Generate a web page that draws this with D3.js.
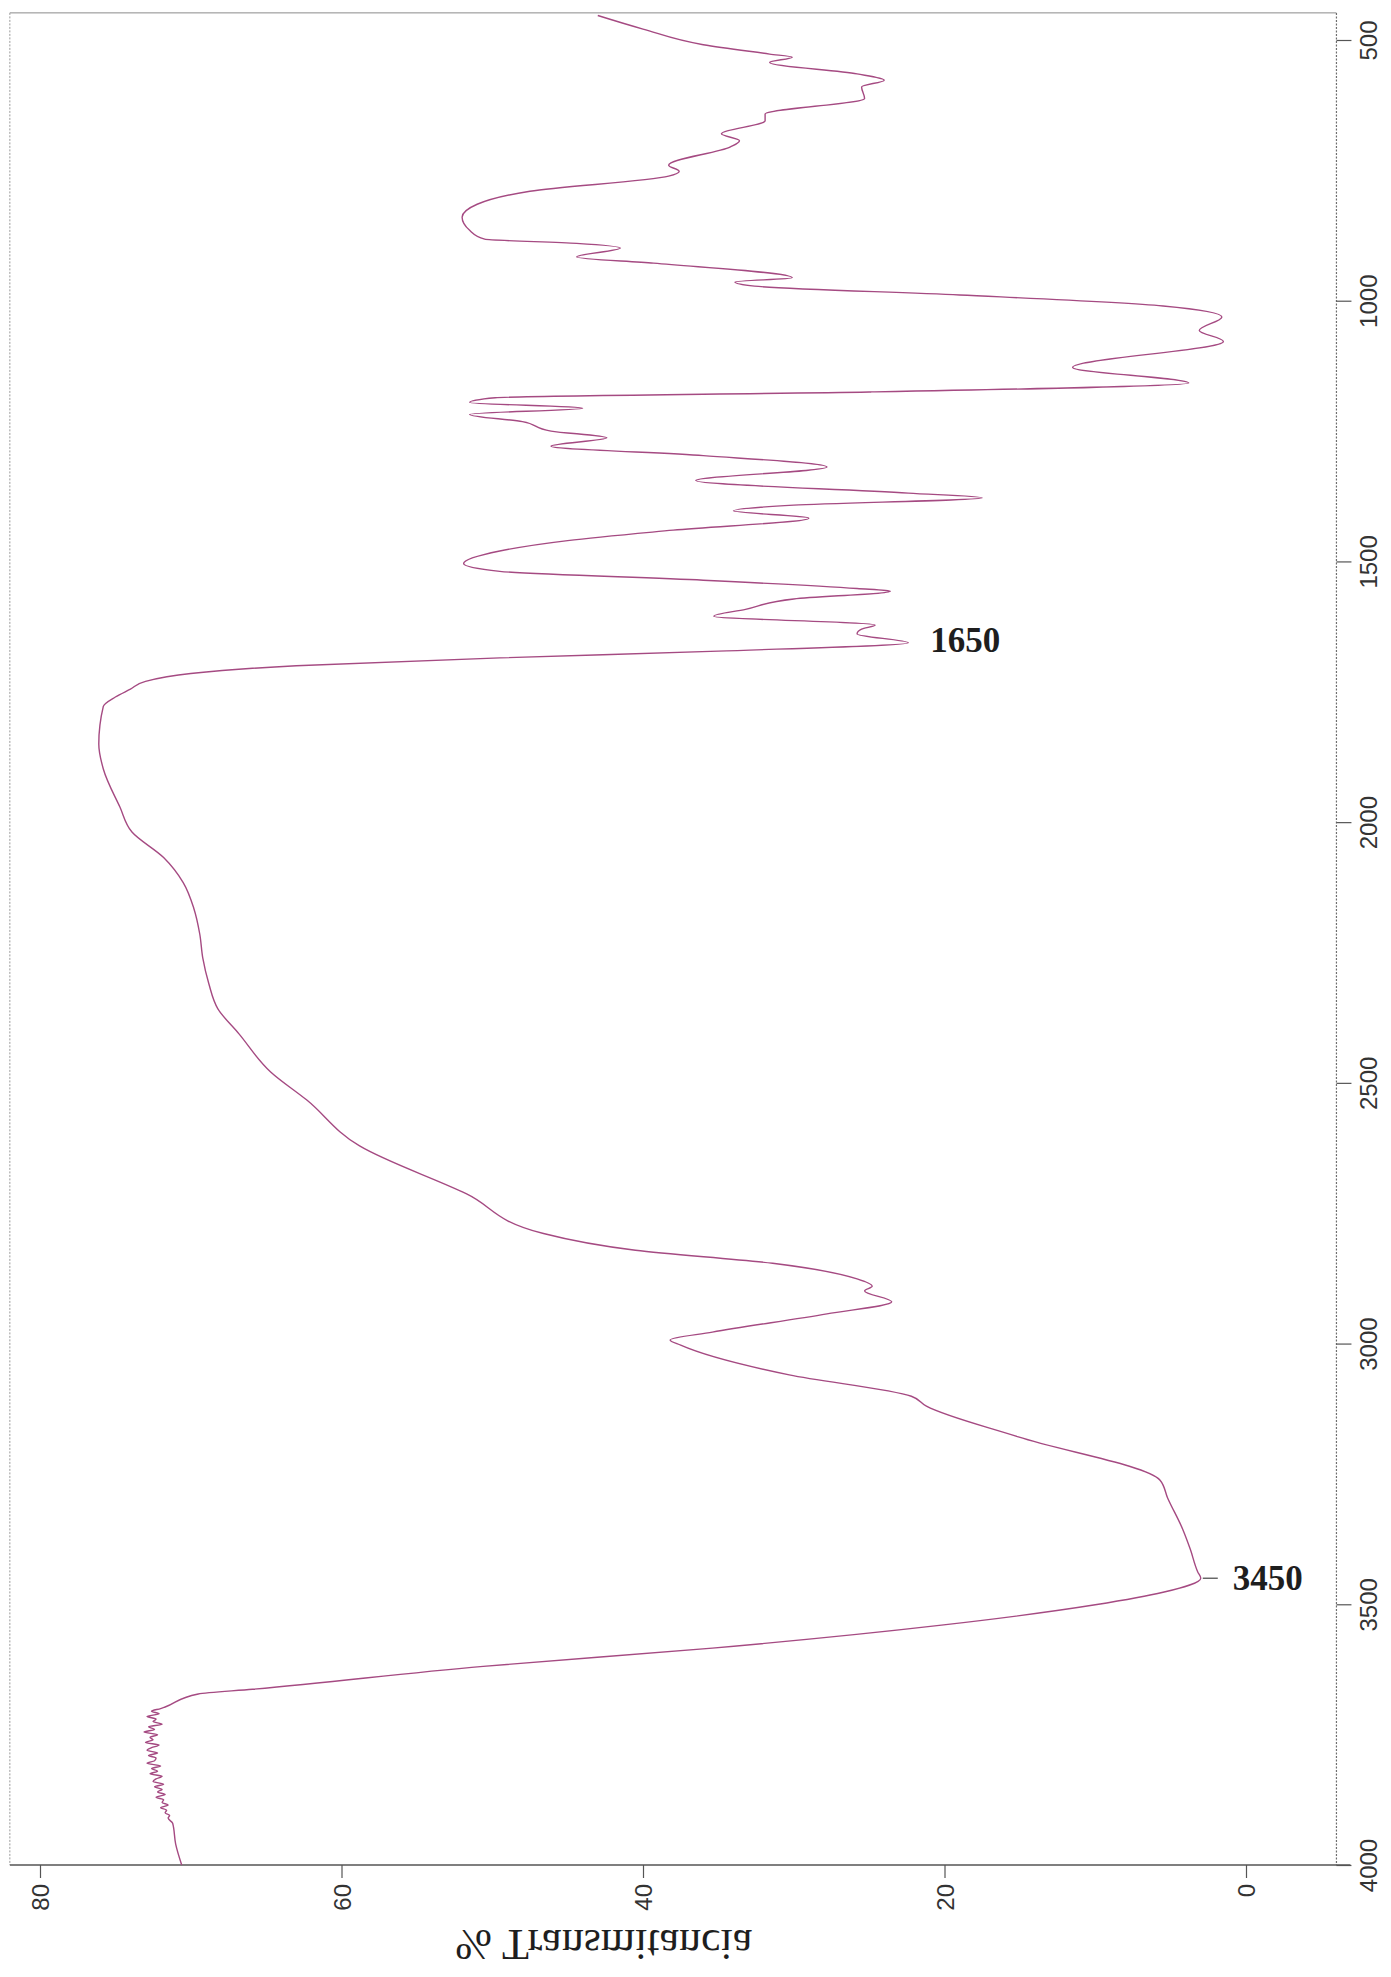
<!DOCTYPE html>
<html>
<head>
<meta charset="utf-8">
<script src="https://cdn.jsdelivr.net/npm/d3@7"></script>
<style>
  html, body { margin: 0; padding: 0; background: #fff; }
  svg { display: block; }
</style>
</head>
<body>
<div id="chart"></div>
<script>
// IR spectrum, drawn rotated: wavenumber runs down the right side, %T along the bottom
const wavenumbers = [
  453, 479, 509, 527, 533, 543, 565, 577, 590, 612, 642, 655, 680, 693, 705, 740, 752, 761,
  790, 815, 840, 865, 882, 890, 899, 916, 928, 956, 964, 972, 989, 1010, 1031, 1057, 1078, 1128,
  1158, 1175, 1186, 1195, 1206, 1218, 1232, 1250, 1263, 1279, 1297, 1319, 1345, 1369, 1378,
  1392, 1403, 1417, 1440, 1460, 1480, 1504, 1519, 1536, 1552, 1557, 1572, 1592, 1605, 1622,
  1630, 1639, 1656, 1672, 1685, 1700, 1715, 1730, 1745, 1760, 1778, 1850, 1898, 1971, 2019,
  2068, 2116, 2165, 2215, 2261, 2310, 2358, 2406, 2479, 2533, 2621, 2713, 2789, 2821, 2846, 2876,
  2890, 2899, 2920, 2943, 2978, 2993, 3003, 3060, 3101, 3120, 3179, 3262, 3296, 3356, 3394,
  3438, 3450, 3477, 3501, 3540, 3584, 3619, 3663, 3672, 3697,
  3700, 3705, 3710, 3715, 3720, 3725, 3730, 3735, 3740, 3745, 3750, 3755, 3760, 3765, 3770,
  3775, 3780, 3785, 3790, 3795, 3800, 3805, 3810, 3815, 3820, 3825, 3830, 3835, 3840, 3845,
  3850, 3855, 3860, 3865, 3870, 3875, 3880, 3885, 3890, 3895, 3900, 3905, 3910,
  3920, 3960, 4000
];
const transmittance = [
  43.0, 40.0, 36.0, 31.6, 30.1, 31.6, 25.8, 24.0, 25.5, 25.3, 31.9, 31.9, 34.8, 33.6, 34.2, 38.3, 37.6, 38.3,
  47.5, 51.0, 52.0, 51.5, 50.5, 44.4, 41.5, 44.4, 39.3, 30.1, 33.9, 32.6, 19.0, 5.5, 1.6, 3.1, 1.5, 11.5,
  3.8, 25.0, 49.8, 51.5, 44.0, 51.5, 48.0, 46.1, 42.4, 46.1, 36.0, 27.8, 36.5, 22.4, 17.5,
  30.0, 34.0, 29.0, 38.0, 45.0, 49.5, 51.9, 49.5, 36.0, 25.8, 23.6, 30.0, 33.2, 35.3, 24.6,
  25.5, 25.8, 22.4, 35.0, 49.5, 63.0, 70.0, 73.0, 74.0, 75.0, 75.8, 76.1, 75.8, 74.7, 73.9,
  71.8, 70.5, 69.8, 69.4, 69.2, 68.8, 68.2, 66.8, 64.7, 62.3, 58.8, 51.7, 46.6, 40.5, 31.4, 25.8,
  24.8, 25.3, 23.5, 27.8, 35.4, 38.2, 37.5, 30.3, 22.2, 21.2, 15.1, 5.7, 5.2, 4.2, 3.7,
  3.2, 3.0, 5.5, 10.0, 20.2, 35.4, 50.6, 65.9, 69.5, 71.7,
  72.0, 72.6, 72.1, 72.9, 72.3, 72.5, 71.9, 72.8, 72.4, 73.1, 72.2, 72.7, 72.5, 73.0, 72.1,
  72.6, 72.9, 72.2, 72.8, 72.3, 72.4, 72.9, 72.0, 72.6, 72.2, 72.7, 71.9, 72.3, 72.5, 71.8,
  72.4, 71.9, 72.2, 71.7, 72.3, 71.8, 71.9, 71.5, 72.0, 71.6, 71.7, 71.4, 71.5,
  71.2, 71.0, 70.6
];
const wnTicks = [500, 1000, 1500, 2000, 2500, 3000, 3500, 4000];
const tTicks = [0, 20, 40, 60, 80];
const peakWn = [1650, 3450];
const peakT = [22.4, 3.0];
const peakLabels = ['1650', '3450'];
const axisTitle = '% Transmitancia';

const width = 1391, height = 1977;
const wnMin = 448, wnMax = 4000;     // visible wavenumber range (top .. bottom)
const tLeft = 82, tRight = -6;       // visible %T range (left .. right)

const svg = d3.select('#chart').append('svg')
  .attr('width', width).attr('height', height)
  .style('background', '#fff');

const yWn = d3.scaleLinear().domain([500, 4000]).range([40, 1865]);
const xT = d3.scaleLinear().domain([0, 80]).range([1246, 40]);

const yTop = yWn(wnMin), yBot = yWn(wnMax);
const xLeft = xT(tLeft), xRight = xT(tRight);

// frame
svg.append('line').attr('x1', xLeft).attr('x2', xRight).attr('y1', yTop).attr('y2', yTop)
  .attr('stroke', '#8a8a8a').attr('stroke-width', 1);
svg.append('line').attr('x1', xLeft).attr('x2', xLeft).attr('y1', yTop).attr('y2', yBot)
  .attr('stroke', '#9a9a9a').attr('stroke-width', 1).attr('stroke-dasharray', '2,1.5');
svg.append('line').attr('x1', xRight).attr('x2', xRight).attr('y1', yTop).attr('y2', yBot)
  .attr('stroke', '#6e6e6e').attr('stroke-width', 1.2).attr('stroke-dasharray', '2,1.5');

// %T axis (along the bottom), labels turned
const gT = svg.append('g').attr('transform', `translate(0,${yBot})`)
  .call(d3.axisBottom(xT).tickValues(tTicks).tickSize(13).tickFormat(d3.format('d')));
gT.select('.domain').remove();
gT.append('line').attr('x1', xLeft).attr('x2', xRight + 14).attr('y1', 0).attr('y2', 0)
  .attr('stroke', '#555').attr('stroke-width', 1.4);
gT.selectAll('.tick line').attr('stroke', '#555').attr('stroke-width', 1.2);
gT.selectAll('.tick text')
  .attr('transform', 'rotate(-90)')
  .attr('x', -19).attr('y', 0).attr('dy', '0.36em')
  .attr('text-anchor', 'end')
  .attr('fill', '#333')
  .style('font-family', '"Liberation Sans", Arial, sans-serif')
  .style('font-size', '24px');

// wavenumber axis (right side)
const gW = svg.append('g').attr('transform', `translate(${xRight},0)`)
  .call(d3.axisRight(yWn).tickValues(wnTicks).tickSize(15).tickFormat(d3.format('d')));
gW.select('.domain').remove();
gW.selectAll('.tick line').attr('stroke', '#555').attr('stroke-width', 1.2);
gW.selectAll('.tick text')
  .attr('transform', 'rotate(-90)')
  .attr('x', 0).attr('y', 41).attr('dy', 0)
  .attr('text-anchor', 'middle')
  .attr('fill', '#333')
  .style('font-family', '"Liberation Sans", Arial, sans-serif')
  .style('font-size', '24px');

// spectrum
const pts = wavenumbers.map((w, i) => [transmittance[i], w]);
const line = d3.line()
  .x(d => xT(d[0]))
  .y(d => yWn(d[1]))
  .curve(d3.curveMonotoneY);
svg.append('path').datum(pts)
  .attr('d', line)
  .attr('fill', 'none')
  .attr('stroke', '#a54a82')
  .attr('stroke-width', 1.4)
  .attr('stroke-linejoin', 'round');

// peak labels
const peaks = svg.append('g');
peakWn.forEach((w, i) => {
  const px = xT(peakT[i]);
  if (i === 1) {
    peaks.append('line').attr('x1', px + 2).attr('x2', px + 17)
      .attr('y1', yWn(w)).attr('y2', yWn(w))
      .attr('stroke', '#444').attr('stroke-width', 1.2);
  }
  peaks.append('text')
    .attr('x', px + (i === 1 ? 32 : 22))
    .attr('y', yWn(w))
    .attr('dy', '0.35em')
    .attr('fill', '#1e1e1e')
    .style('font-family', '"Liberation Serif", "Times New Roman", serif')
    .style('font-size', '35px')
    .style('font-weight', 'bold')
    .text(peakLabels[i]);
});

// axis title: printed mirrored in the scan
svg.append('text')
  .attr('transform', `translate(${(xT(40) + xT(20)) / 2 - 190},${yBot + 80}) scale(1,-1)`)
  .attr('text-anchor', 'middle')
  .attr('dy', '0.35em')
  .attr('fill', '#1e1e1e')
  .style('font-family', '"Liberation Serif", "Times New Roman", serif')
  .style('font-size', '44px')
  .text(axisTitle);
</script>
</body>
</html>
